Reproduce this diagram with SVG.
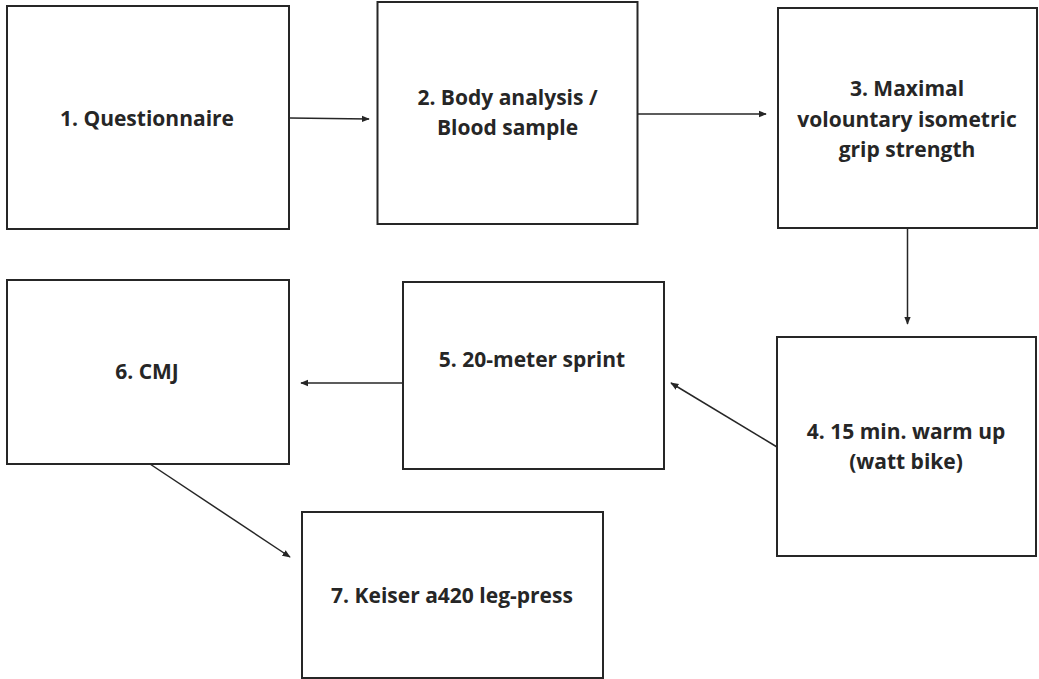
<svg xmlns="http://www.w3.org/2000/svg" width="1039" height="679" viewBox="0 0 1039 679">
  <style>
    .box { fill: #ffffff; stroke: #262626; stroke-width: 2; }
    .lbl { font-family: "Open Sans", "Liberation Sans", sans-serif; font-weight: bold; font-size: 21px; fill: #262626; text-anchor: middle; }
    .link { fill: none; stroke: #262626; stroke-width: 1.5; marker-end: url(#arrow); }
  </style>
  <defs>
    <marker id="arrow" viewBox="0 0 10 10" refX="9" refY="5" markerWidth="5.5" markerHeight="5.5" orient="auto" markerUnits="strokeWidth">
      <path d="M0,1 L10,5 L0,9 z" fill="#262626"/>
    </marker>
  </defs>
  <rect width="1039" height="679" fill="#ffffff"/>

  <g id="connectors">
    <line class="link" x1="290" y1="118" x2="369" y2="119"/>
    <line class="link" x1="638" y1="114" x2="766" y2="114"/>
    <line class="link" x1="907.5" y1="228" x2="907.5" y2="324"/>
    <line class="link" x1="777" y1="447" x2="671" y2="383"/>
    <line class="link" x1="403" y1="383" x2="301" y2="383"/>
    <line class="link" x1="150" y1="464" x2="290" y2="557"/>
  </g>

  <g id="node1">
    <rect class="box" x="7" y="6" width="282" height="223"/>
    <text class="lbl" x="147" y="126">1. Questionnaire</text>
  </g>
  <g id="node2">
    <rect class="box" x="377.5" y="2" width="260" height="222"/>
    <text class="lbl" x="507.5" y="105">2. Body analysis /</text>
    <text class="lbl" x="507.5" y="135">Blood sample</text>
  </g>
  <g id="node3">
    <rect class="box" x="778" y="8" width="259" height="220"/>
    <text class="lbl" x="907" y="96">3. Maximal</text>
    <text class="lbl" x="907" y="127">volountary isometric</text>
    <text class="lbl" x="907" y="157">grip strength</text>
  </g>
  <g id="node4">
    <rect class="box" x="777" y="337" width="259" height="219"/>
    <text class="lbl" x="906" y="439">4. 15 min. warm up</text>
    <text class="lbl" x="906" y="469">(watt bike)</text>
  </g>
  <g id="node5">
    <rect class="box" x="403" y="282" width="261" height="187"/>
    <text class="lbl" x="532" y="367">5. 20-meter sprint</text>
  </g>
  <g id="node6">
    <rect class="box" x="7" y="280" width="282" height="184"/>
    <text class="lbl" x="147" y="379">6. CMJ</text>
  </g>
  <g id="node7">
    <rect class="box" x="302" y="512" width="301" height="166"/>
    <text class="lbl" x="452" y="603">7. Keiser a420 leg-press</text>
  </g>
</svg>
